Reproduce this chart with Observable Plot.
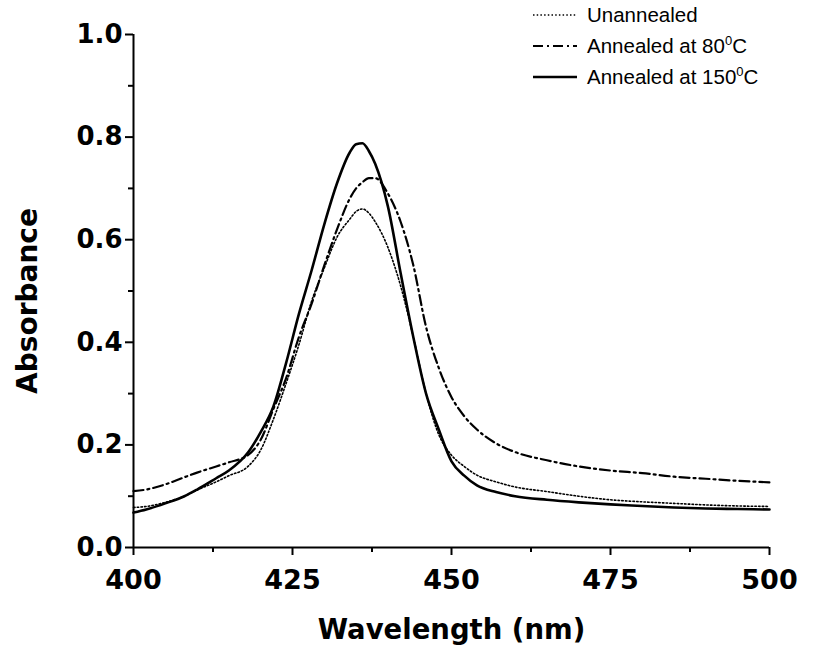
<!DOCTYPE html>
<html>
<head>
<meta charset="utf-8">
<script src="https://cdn.jsdelivr.net/npm/d3@7"></script>
<script src="https://cdn.jsdelivr.net/npm/@observablehq/plot@0.6"></script>
<style>
  html, body { margin: 0; padding: 0; background: #fff; }
  #wrap { position: relative; width: 828px; height: 650px; font-family: "Liberation Sans", Arial, sans-serif; }
  #legend { position: absolute; left: 533px; top: -1px; font-size: 20.5px; color: #000; }
  .row { display: flex; align-items: center; height: 31px; }
  .row svg { margin-right: 10px; }
  sup { font-size: 13px; vertical-align: 8px; line-height: 0; }
</style>
</head>
<body>
<div id="wrap"></div>
<script>
// ---- data ----
const wavelength = [400, 402, 405, 408, 410, 413, 415, 418, 420, 422, 424, 426, 428, 430, 432, 434, 435, 436, 437, 438, 440, 442, 444, 446, 448, 450, 452, 454, 457, 460, 465, 470, 475, 480, 485, 490, 495, 500];
const unannealed = [0.078, 0.080, 0.088, 0.100, 0.112, 0.128, 0.140, 0.158, 0.190, 0.250, 0.320, 0.395, 0.480, 0.545, 0.605, 0.640, 0.655, 0.660, 0.652, 0.635, 0.585, 0.510, 0.410, 0.300, 0.220, 0.180, 0.158, 0.141, 0.128, 0.118, 0.109, 0.100, 0.093, 0.089, 0.086, 0.083, 0.081, 0.080];
const annealed80 = [0.110, 0.113, 0.123, 0.137, 0.146, 0.158, 0.166, 0.180, 0.210, 0.270, 0.330, 0.410, 0.475, 0.550, 0.620, 0.680, 0.700, 0.712, 0.720, 0.720, 0.690, 0.635, 0.550, 0.430, 0.350, 0.293, 0.256, 0.230, 0.203, 0.186, 0.170, 0.158, 0.150, 0.145, 0.138, 0.134, 0.130, 0.127];
const annealed150 = [0.068, 0.074, 0.086, 0.100, 0.113, 0.135, 0.150, 0.185, 0.225, 0.275, 0.360, 0.455, 0.540, 0.630, 0.710, 0.770, 0.786, 0.788, 0.773, 0.748, 0.665, 0.535, 0.410, 0.300, 0.230, 0.168, 0.140, 0.121, 0.108, 0.100, 0.093, 0.088, 0.084, 0.081, 0.078, 0.076, 0.075, 0.074];

const xTicks = [400, 425, 450, 475, 500];
const xMinorTicks = [412.5, 437.5, 462.5, 487.5];
const yTicks = [0, 0.2, 0.4, 0.6, 0.8, 1.0];
const yMinorTicks = [0.1, 0.3, 0.5, 0.7, 0.9];
const xLabel = ["Wavelength (nm)"];
const yLabel = ["Absorbance"];
const legendLabels = [["Unannealed", ""], ["Annealed at 80", "C"], ["Annealed at 150", "C"]];

const toRows = (vals) => wavelength.map((w, i) => ({w, a: vals[i]}));
const dUn = toRows(unannealed), d80 = toRows(annealed80), d150 = toRows(annealed150);

const boldFont = "'DejaVu Sans', sans-serif";

const chart = Plot.plot({
  width: 828,
  height: 650,
  marginLeft: 133,
  marginRight: 59,
  marginTop: 34,
  marginBottom: 103,
  style: {fontFamily: boldFont, background: "#fff", color: "#000"},
  x: {domain: [400, 500]},
  y: {domain: [0, 1]},
  marks: [
    Plot.axisX(xTicks, {tickSize: 8, tickPadding: 14, fontSize: 27, fontWeight: "bold", strokeWidth: 2, label: null, tickFormat: d => String(d)}),
    Plot.axisX(xMinorTicks, {tickSize: 5, strokeWidth: 2, text: null, label: null}),
    Plot.axisY(yTicks, {tickSize: 8, tickPadding: 3, fontSize: 26, fontWeight: "bold", strokeWidth: 2, label: null, tickFormat: d => d.toFixed(1)}),
    Plot.axisY(yMinorTicks, {tickSize: 5, strokeWidth: 2, text: null, label: null}),
    Plot.ruleY([0], {strokeWidth: 2}),
    Plot.ruleX([400], {strokeWidth: 2}),
    Plot.line(dUn, {x: "w", y: "a", stroke: "#000", strokeWidth: 1.6, strokeDasharray: "1.5,2.2", curve: "monotone-x"}),
    Plot.line(d80, {x: "w", y: "a", stroke: "#000", strokeWidth: 2.2, strokeDasharray: "10,4,2,4", curve: "monotone-x"}),
    Plot.line(d150, {x: "w", y: "a", stroke: "#000", strokeWidth: 2.6, curve: "monotone-x"}),
    Plot.text(xLabel, {frameAnchor: "bottom", dy: 83, lineAnchor: "middle", textAnchor: "middle", fontSize: 27.5, fontWeight: "bold", fill: "#000"}),
    Plot.text(yLabel, {frameAnchor: "left", dx: -105, dy: 10, rotate: -90, lineAnchor: "middle", textAnchor: "middle", fontSize: 28, fontWeight: "bold", fill: "#000"})
  ]
});

const wrap = document.getElementById("wrap");
wrap.appendChild(chart);

// legend
const dashes = ["1.5,2.2", "10,4,2,4", null];
const widths = [1.6, 2.2, 2.6];
const legend = document.createElement("div");
legend.id = "legend";
legendLabels.forEach((lab, i) => {
  const row = document.createElement("div");
  row.className = "row";
  const dash = dashes[i] ? `stroke-dasharray="${dashes[i]}"` : "";
  row.innerHTML = `<svg width="44" height="10"><line x1="0" y1="5" x2="44" y2="5" stroke="#000" stroke-width="${widths[i]}" ${dash}/></svg>` +
    `<span>${lab[0]}${lab[1] ? "<sup>0</sup>" + lab[1] : ""}</span>`;
  legend.appendChild(row);
});
wrap.appendChild(legend);
</script>
</body>
</html>
